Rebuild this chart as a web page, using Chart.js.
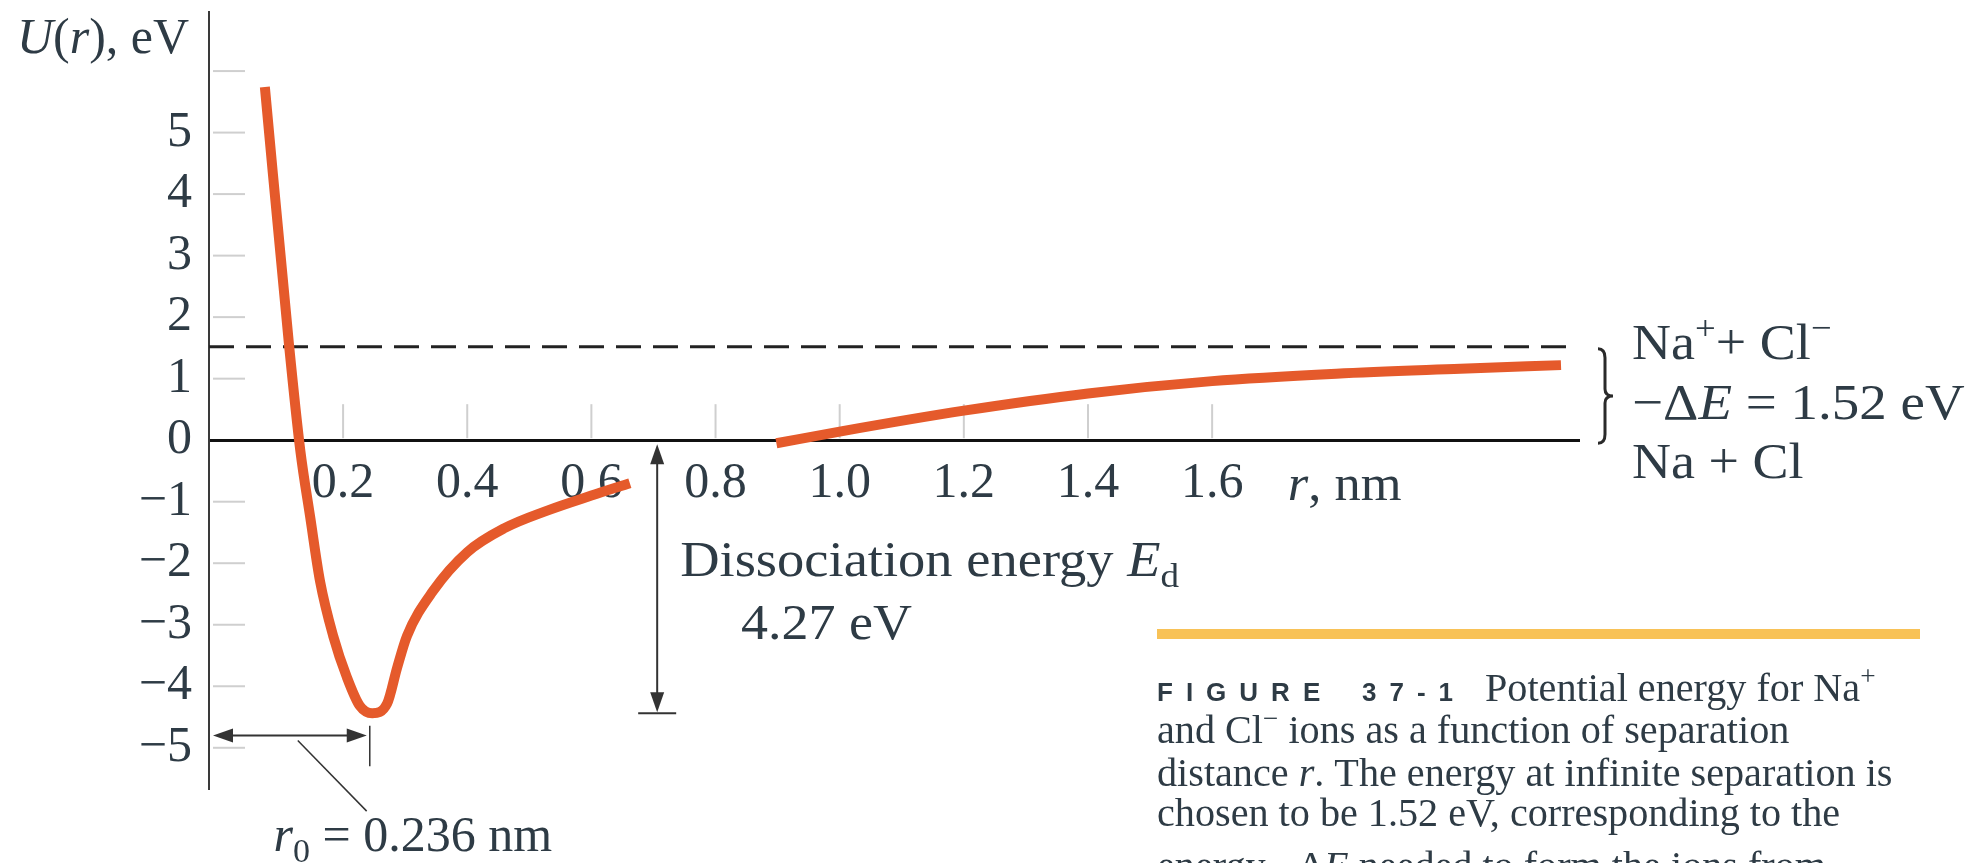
<!DOCTYPE html>
<html>
<head>
<meta charset="utf-8">
<script src="https://cdn.jsdelivr.net/npm/chart.js@4.4.1/dist/chart.umd.min.js"></script>
<style>
  html, body { margin: 0; padding: 0; background: #fff; }
  #wrap { width: 1976px; height: 863px; position: relative; }
</style>
</head>
<body>
<div id="wrap"><canvas id="nacl"></canvas></div>
<script>
// potential energy U (eV) vs separation r (nm)
var rLeft = [0.074, 0.113, 0.131, 0.147, 0.163, 0.184, 0.206, 0.227, 0.247, 0.271, 0.287, 0.303, 0.345, 0.40, 0.46, 0.53, 0.60, 0.662];
var uLeft = [5.74, 1.54, -0.16, -1.25, -2.30, -3.18, -3.85, -4.32, -4.44, -4.28, -3.70, -3.18, -2.45, -1.82, -1.43, -1.14, -0.90, -0.70];
var rRight = [0.898, 1.0, 1.2, 1.4, 1.6, 1.8, 2.0, 2.162];
var uRight = [-0.05, 0.14, 0.48, 0.76, 0.96, 1.08, 1.16, 1.22];

var yTicks = [-5, -4, -3, -2, -1, 0, 1, 2, 3, 4, 5, 6];
var xTicks = [0.2, 0.4, 0.6, 0.8, 1.0, 1.2, 1.4, 1.6];
var xRange = [-0.016, 2.191];
var yRange = [-5.67, 6.96];

var ionLevel = 1.52;     // Na+ + Cl- at infinite separation
var dashEnd = 2.186;
var dissocAt = 0.706;    // r where the E_d arrow is drawn
var r0Mark = 0.243;      // right end of the r0 arrow as drawn
var uMin = Math.min.apply(null, uLeft);

var ink = '#2e3b45';
var serif = '"Liberation Serif", "Times New Roman", serif';

function pts(xs, ys) {
  return xs.map(function (x, i) { return { x: x, y: ys[i] }; });
}

// draw text made of runs: {t, i (italic), sub, sup}
function runs(ctx, list, x, y, size, sx) {
  ctx.save();
  ctx.translate(x, y);
  ctx.scale(sx || 1, 1);
  var cx = 0;
  list.forEach(function (r) {
    var fs = size, dy = 0;
    if (r.sub) { fs = size * 0.68; dy = size * 0.22; }
    if (r.sup) { fs = size * 0.68; dy = -size * 0.4; }
    ctx.font = (r.i ? 'italic ' : '') + fs + 'px ' + serif;
    ctx.fillText(r.t, cx, dy);
    cx += ctx.measureText(r.t).width;
  });
  ctx.restore();
}

function spaced(ctx, text, x, y, gap) {
  for (var i = 0; i < text.length; i++) {
    ctx.fillText(text[i], x, y);
    x += ctx.measureText(text[i]).width + gap;
  }
  return x;
}

function arrowHead(ctx, x, y, dx, dy) {
  // tip at (x, y), pointing along (dx, dy)
  var len = 20, half = 7;
  ctx.beginPath();
  ctx.moveTo(x, y);
  ctx.lineTo(x - dx * len - dy * half, y - dy * len + dx * half);
  ctx.lineTo(x - dx * len + dy * half, y - dy * len - dx * half);
  ctx.closePath();
  ctx.fill();
}

var figureExtras = {
  id: 'figureExtras',
  beforeDatasetsDraw: function (chart) {
    var ctx = chart.ctx, xs = chart.scales.x, ys = chart.scales.y, area = chart.chartArea;
    var y0 = ys.getPixelForValue(0);
    ctx.save();
    ctx.strokeStyle = '#cfcfcf';
    ctx.lineWidth = 2;
    yTicks.forEach(function (v) {
      if (v === 0) return;
      var y = ys.getPixelForValue(v);
      ctx.beginPath(); ctx.moveTo(area.left + 4, y); ctx.lineTo(area.left + 36, y); ctx.stroke();
    });
    xTicks.forEach(function (v) {
      var x = xs.getPixelForValue(v);
      ctx.beginPath(); ctx.moveTo(x, y0 - 2); ctx.lineTo(x, y0 - 36); ctx.stroke();
    });
    ctx.restore();
  },
  afterDraw: function (chart) {
    var ctx = chart.ctx, xs = chart.scales.x, ys = chart.scales.y, area = chart.chartArea;
    var px = function (v) { return xs.getPixelForValue(v); };
    var py = function (v) { return ys.getPixelForValue(v); };
    var y0 = py(0), yIon = py(ionLevel);
    ctx.save();
    ctx.fillStyle = ink;
    ctx.strokeStyle = '#333';

    // dissociation energy arrow
    var ax = px(dissocAt), yb = py(uMin);
    ctx.lineWidth = 2;
    ctx.beginPath(); ctx.moveTo(ax, y0 + 20); ctx.lineTo(ax, yb - 18); ctx.stroke();
    ctx.fillStyle = '#333';
    arrowHead(ctx, ax, y0 + 4, 0, -1);
    arrowHead(ctx, ax, yb - 1, 0, 1);
    ctx.beginPath(); ctx.moveTo(ax - 19, yb); ctx.lineTo(ax + 19, yb); ctx.stroke();

    // r0 double arrow and leader
    var ra = py(-4.80), rx = px(r0Mark);
    ctx.beginPath(); ctx.moveTo(area.left + 20, ra); ctx.lineTo(rx - 18, ra); ctx.stroke();
    arrowHead(ctx, area.left + 4, ra, -1, 0);
    arrowHead(ctx, rx - 3, ra, 1, 0);
    ctx.lineWidth = 1.5;
    ctx.beginPath(); ctx.moveTo(rx, py(-4.64)); ctx.lineTo(rx, py(-5.30)); ctx.stroke();
    ctx.beginPath(); ctx.moveTo(px(0.127), py(-4.88)); ctx.lineTo(px(0.238), py(-6.03)); ctx.stroke();

    // brace on the right
    var bx = area.right + 19, bt = yIon + 2, bb = y0 + 3, bm = (bt + bb) / 2;
    ctx.lineWidth = 3;
    ctx.strokeStyle = '#2a2a2a';
    ctx.beginPath();
    ctx.moveTo(bx, bt);
    ctx.quadraticCurveTo(bx + 7, bt, bx + 7, bt + 9);
    ctx.lineTo(bx + 7, bm - 7);
    ctx.quadraticCurveTo(bx + 7, bm, bx + 15, bm);
    ctx.quadraticCurveTo(bx + 7, bm, bx + 7, bm + 7);
    ctx.lineTo(bx + 7, bb - 9);
    ctx.quadraticCurveTo(bx + 7, bb, bx, bb);
    ctx.stroke();

    // texts
    ctx.fillStyle = ink;
    ctx.textBaseline = 'alphabetic';
    ctx.textAlign = 'left';
    var tx = area.right + 53;
    runs(ctx, [{ t: 'Na' }, { t: '+', sup: true }, { t: '+ Cl' }, { t: '\u2212', sup: true }], tx, yIon + 12, 50, 1.08);
    runs(ctx, [{ t: '\u2212\u0394' }, { t: 'E', i: true }, { t: ' = 1.52 eV' }], tx, (yIon + y0) / 2 + 26, 50, 1.1);
    runs(ctx, [{ t: 'Na + Cl' }], tx, y0 + 38, 50, 1.08);

    runs(ctx, [{ t: 'U', i: true }, { t: '(' }, { t: 'r', i: true }, { t: '), eV' }], area.left - 192, area.top + 41, 50, 1.0);
    runs(ctx, [{ t: 'r', i: true }, { t: ', nm' }], px(1.722), py(-0.97), 50, 1.05);
    runs(ctx, [{ t: 'Dissociation energy ' }, { t: 'E', i: true }, { t: 'd', sub: true }], px(0.743), py(-2.20), 50, 1.09);
    runs(ctx, [{ t: '4.27 eV' }], px(0.841), py(-3.23), 50, 1.08);
    runs(ctx, [{ t: 'r', i: true }, { t: '0', sub: true }, { t: ' = 0.236 nm' }], px(0.088), py(-6.68), 50, 1.0);

    // caption
    ctx.fillStyle = '#f8c257';
    ctx.fillRect(1157, 629, 763, 10);
    ctx.fillStyle = ink;
    ctx.font = 'bold 26px "Liberation Sans", Arial, sans-serif';
    spaced(ctx, 'FIGURE', 1157, 701, 13);
    spaced(ctx, '37-1', 1362, 701, 13);
    var cs = 39;
    runs(ctx, [{ t: 'Potential energy for Na' }, { t: '+', sup: true }], 1485, 701, cs, 1.03);
    runs(ctx, [{ t: 'and Cl' }, { t: '\u2212', sup: true }, { t: ' ions as a function of separation' }], 1157, 743, cs, 1.03);
    runs(ctx, [{ t: 'distance ' }, { t: 'r', i: true }, { t: '. The energy at infinite separation is' }], 1157, 786, cs, 1.03);
    runs(ctx, [{ t: 'chosen to be 1.52 eV, corresponding to the' }], 1157, 826, cs, 1.03);
    runs(ctx, [{ t: 'energy \u2212\u0394' }, { t: 'E', i: true }, { t: ' needed to form the ions from' }], 1157, 879, cs, 1.03);
    ctx.restore();
  }
};

new Chart(document.getElementById('nacl'), {
  type: 'line',
  data: {
    datasets: [
      {
        data: pts(rLeft, uLeft),
        borderColor: '#e55a2b',
        borderWidth: 10,
        cubicInterpolationMode: 'monotone',
        pointRadius: 0,
        borderCapStyle: 'butt',
        borderJoinStyle: 'round'
      },
      {
        data: pts(rRight, uRight),
        borderColor: '#e55a2b',
        borderWidth: 10,
        cubicInterpolationMode: 'monotone',
        pointRadius: 0,
        borderCapStyle: 'butt'
      },
      {
        data: pts([xRange[0], dashEnd], [ionLevel, ionLevel]),
        borderColor: '#222',
        borderWidth: 3,
        borderDash: [25, 12],
        pointRadius: 0
      }
    ]
  },
  options: {
    responsive: true,
    maintainAspectRatio: false,
    animation: false,
    layout: { padding: { left: 0, top: 12, right: 397, bottom: 74 } },
    plugins: { legend: { display: false }, tooltip: { enabled: false } },
    scales: {
      x: {
        type: 'linear',
        position: { y: 0 },
        min: xRange[0],
        max: xRange[1],
        afterBuildTicks: function (s) { s.ticks = xTicks.map(function (v) { return { value: v }; }); },
        afterFit: function (s) { s.paddingLeft = 0; s.paddingRight = 0; },
        grid: { display: false, drawTicks: false },
        border: { display: true, color: '#111', width: 3 },
        ticks: {
          padding: 14,
          maxRotation: 0,
          autoSkip: false,
          color: ink,
          font: { family: serif, size: 50 },
          callback: function (v) { return Number(v).toFixed(1); }
        }
      },
      y: {
        type: 'linear',
        min: yRange[0],
        max: yRange[1],
        afterBuildTicks: function (s) { s.ticks = yTicks.map(function (v) { return { value: v }; }); },
        afterFit: function (s) { s.width = 209; s.paddingTop = 0; s.paddingBottom = 0; },
        grid: { display: false, drawTicks: false },
        border: { display: true, color: '#3a3a3a', width: 2 },
        ticks: {
          padding: 17,
          autoSkip: false,
          color: ink,
          font: { family: serif, size: 50 },
          callback: function (v) {
            if (v === 6) return '';
            return v < 0 ? '\u2212' + Math.abs(v) : String(v);
          }
        }
      }
    }
  },
  plugins: [figureExtras]
});
</script>
</body>
</html>
